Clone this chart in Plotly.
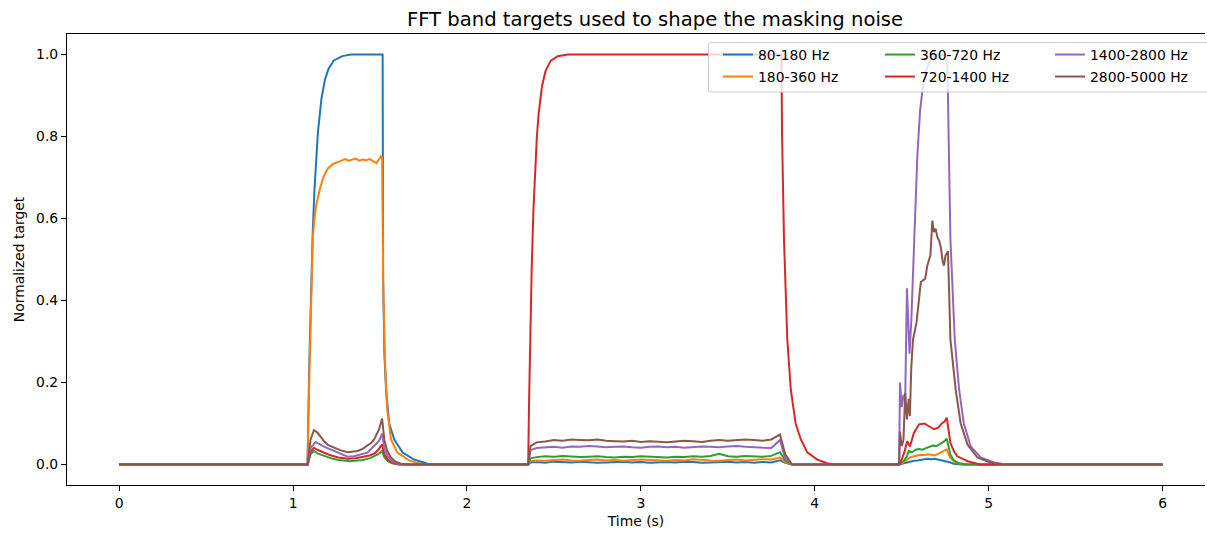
import plotly.graph_objects as go

# ---------------- data ----------------
band_names = ["80-180 Hz", "180-360 Hz", "360-720 Hz", "720-1400 Hz", "1400-2800 Hz", "2800-5000 Hz"]
band_colors = ["#1f77b4", "#ff7f0e", "#2ca02c", "#d62728", "#9467bd", "#8c564b"]

# shared time samples of the long middle burst (s)
t_mid = [2.40, 2.45, 2.50, 2.55, 2.60, 2.65, 2.70, 2.75, 2.80, 2.85, 2.90, 2.95, 3.00, 3.05, 3.10,
         3.15, 3.20, 3.25, 3.30, 3.35, 3.40, 3.45, 3.50, 3.55, 3.60, 3.65, 3.70, 3.75, 3.80]
t_mid_start = [2.352, 2.365]
t_mid_end = [3.83, 3.87]

# ---- 80-180 Hz
t_b1 = [0.0, 1.083, 1.093, 1.103, 1.113, 1.123, 1.133, 1.143, 1.163, 1.183, 1.203, 1.233, 1.283, 1.333,
        1.515, 1.518, 1.525, 1.535, 1.553, 1.582, 1.630, 1.696, 1.775, 1.850]
v_b1 = [0, 0, 0.243, 0.426, 0.565, 0.671, 0.751, 0.811, 0.892, 0.938, 0.964, 0.985, 0.996, 1.0,
        1.0, 0.45, 0.27, 0.18, 0.10, 0.061, 0.029, 0.012, 0.002, 0]
v_b_start = [0, 0.005]
v_b_mid = [0.006, 0.004, 0.007, 0.006, 0.005, 0.007, 0.006, 0.004, 0.005, 0.006, 0.007, 0.005, 0.006, 0.004, 0.005,
           0.006, 0.005, 0.007, 0.006, 0.004, 0.005, 0.006, 0.007, 0.005, 0.006, 0.004, 0.006, 0.005, 0.010]
v_b_end = [0.004, 0]
t_b3 = [4.485, 4.51, 4.53, 4.55, 4.57, 4.59, 4.61, 4.63, 4.65, 4.67, 4.69, 4.71, 4.73, 4.76, 4.78, 4.80, 4.84, 6.0]
v_b3 = [0, 0.003, 0.005, 0.007, 0.009, 0.010, 0.012, 0.013, 0.014, 0.013, 0.014, 0.012, 0.011, 0.008, 0.005, 0.002, 0, 0]

# ---- 180-360 Hz
t_o1 = [0.0, 1.083, 1.093, 1.103, 1.113, 1.123, 1.133, 1.153, 1.173, 1.20, 1.23, 1.26, 1.28, 1.30, 1.32, 1.34, 1.36,
        1.38, 1.40, 1.42, 1.44, 1.46, 1.48, 1.495, 1.505, 1.512, 1.518, 1.528, 1.54, 1.563, 1.60, 1.667, 1.74, 1.80]
v_o1 = [0, 0, 0.20, 0.40, 0.55, 0.60, 0.632, 0.67, 0.70, 0.722, 0.733, 0.738, 0.742, 0.745, 0.741, 0.744, 0.746,
        0.741, 0.744, 0.742, 0.745, 0.740, 0.735, 0.745, 0.752, 0.75, 0.45, 0.26, 0.14, 0.061, 0.029, 0.01, 0.001, 0]
v_o_start = [0, 0.008]
v_o_mid = [0.010, 0.009, 0.011, 0.012, 0.010, 0.009, 0.011, 0.012, 0.010, 0.011, 0.009, 0.010, 0.012, 0.011, 0.010,
           0.009, 0.011, 0.010, 0.013, 0.011, 0.010, 0.009, 0.011, 0.012, 0.010, 0.011, 0.013, 0.012, 0.017]
v_o_end = [0.006, 0]
t_o3 = [4.485, 4.51, 4.53, 4.55, 4.57, 4.59, 4.61, 4.63, 4.65, 4.67, 4.69, 4.71, 4.73, 4.745, 4.758, 4.78, 4.80,
        4.83, 4.87, 6.0]
v_o3 = [0, 0.005, 0.012, 0.018, 0.020, 0.022, 0.024, 0.023, 0.025, 0.024, 0.022, 0.026, 0.030, 0.033, 0.037, 0.016,
        0.008, 0.002, 0, 0]

# ---- 360-720 Hz
t_g1 = [0.0, 1.084, 1.10, 1.12, 1.14, 1.16, 1.19, 1.22, 1.26, 1.30, 1.33, 1.37, 1.40, 1.44, 1.47, 1.49, 1.512,
        1.525, 1.545, 1.57, 1.61]
v_g1 = [0, 0, 0.025, 0.033, 0.027, 0.024, 0.018, 0.015, 0.011, 0.009, 0.008, 0.010, 0.011, 0.015, 0.020, 0.025,
        0.033, 0.018, 0.008, 0.003, 0]
v_g_start = [0, 0.015]
v_g_mid = [0.018, 0.020, 0.019, 0.021, 0.020, 0.018, 0.019, 0.020, 0.018, 0.017, 0.019, 0.018, 0.020, 0.019, 0.018,
           0.017, 0.019, 0.018, 0.020, 0.019, 0.021, 0.026, 0.020, 0.019, 0.021, 0.020, 0.019, 0.021, 0.030]
v_g_end = [0.010, 0]
t_g3 = [4.485, 4.51, 4.53, 4.54, 4.56, 4.58, 4.60, 4.62, 4.64, 4.66, 4.68, 4.70, 4.72, 4.74, 4.759, 4.78, 4.80,
        4.83, 4.87, 6.0]
v_g3 = [0, 0.008, 0.020, 0.033, 0.030, 0.036, 0.038, 0.036, 0.040, 0.044, 0.046, 0.045, 0.050, 0.055, 0.063,
        0.024, 0.010, 0.003, 0, 0]

# ---- 720-1400 Hz
t_r1 = [0.0, 1.084, 1.10, 1.12, 1.14, 1.17, 1.21, 1.26, 1.314, 1.36, 1.40, 1.44, 1.47, 1.49, 1.512, 1.525, 1.545,
        1.57, 1.61]
v_r1 = [0, 0, 0.030, 0.041, 0.036, 0.030, 0.023, 0.017, 0.014, 0.015, 0.018, 0.022, 0.027, 0.036, 0.049, 0.025,
        0.012, 0.004, 0]
t_r2 = [2.352, 2.357, 2.362, 2.372, 2.382, 2.392, 2.402, 2.412, 2.432, 2.452, 2.482, 2.522, 2.58, 3.808, 3.812,
        3.823, 3.842, 3.862, 3.89, 3.92, 3.958, 4.015, 4.07, 4.12]
v_r2 = [0, 0.15, 0.276, 0.475, 0.62, 0.725, 0.80, 0.855, 0.924, 0.96, 0.985, 0.996, 1.0, 1.0, 0.8,
        0.55, 0.305, 0.183, 0.10, 0.061, 0.029, 0.012, 0.003, 0]
t_r3 = [4.485, 4.50, 4.515, 4.532, 4.547, 4.57, 4.60, 4.63, 4.655, 4.685, 4.71, 4.73, 4.745, 4.759, 4.78, 4.80,
        4.82, 4.85, 4.88, 4.95, 6.0]
v_r3 = [0, 0.012, 0.030, 0.057, 0.044, 0.077, 0.098, 0.100, 0.094, 0.086, 0.090, 0.100, 0.104, 0.114, 0.053, 0.032,
        0.020, 0.013, 0.008, 0, 0]

# ---- 1400-2800 Hz
t_p1 = [0.0, 1.084, 1.10, 1.13, 1.15, 1.18, 1.215, 1.26, 1.314, 1.35, 1.39, 1.427, 1.466, 1.495, 1.512, 1.525,
        1.545, 1.57, 1.60, 1.64]
v_p1 = [0, 0, 0.040, 0.055, 0.050, 0.043, 0.037, 0.028, 0.019, 0.020, 0.024, 0.029, 0.045, 0.058, 0.075, 0.040,
        0.020, 0.008, 0.002, 0]
v_p_start = [0, 0.035]
v_p_mid = [0.040, 0.042, 0.043, 0.041, 0.044, 0.043, 0.045, 0.044, 0.042, 0.043, 0.044, 0.042, 0.041, 0.043, 0.044,
           0.042, 0.043, 0.041, 0.042, 0.044, 0.043, 0.042, 0.044, 0.045, 0.043, 0.042, 0.041, 0.040, 0.060]
v_p_end = [0.015, 0]
t_p3 = [4.485, 4.49, 4.50, 4.51, 4.52, 4.53, 4.545, 4.555, 4.571, 4.59, 4.605, 4.62, 4.64, 4.667, 4.70, 4.762,
        4.77, 4.78, 4.805, 4.83, 4.857, 4.896, 4.954, 5.03, 5.10, 6.0]
v_p3 = [0, 0.20, 0.14, 0.17, 0.16, 0.43, 0.27, 0.35, 0.55, 0.754, 0.86, 0.917, 0.96, 0.99, 1.0, 1.0,
        0.795, 0.55, 0.305, 0.183, 0.10, 0.045, 0.017, 0.005, 0, 0]

# ---- 2800-5000 Hz
t_n1 = [0.0, 1.084, 1.10, 1.12, 1.14, 1.16, 1.178, 1.20, 1.235, 1.27, 1.314, 1.34, 1.37, 1.40, 1.427, 1.45, 1.466,
        1.485, 1.495, 1.512, 1.525, 1.54, 1.563, 1.59, 1.62, 1.66]
v_n1 = [0, 0, 0.060, 0.084, 0.078, 0.066, 0.057, 0.048, 0.041, 0.035, 0.030, 0.031, 0.033, 0.038, 0.045, 0.053,
        0.061, 0.075, 0.086, 0.112, 0.060, 0.035, 0.017, 0.007, 0.002, 0]
v_n_start = [0, 0.045]
v_n_mid = [0.054, 0.056, 0.060, 0.058, 0.061, 0.060, 0.059, 0.061, 0.058, 0.057, 0.056, 0.058, 0.055, 0.057, 0.056,
           0.054, 0.056, 0.058, 0.057, 0.055, 0.058, 0.060, 0.058, 0.059, 0.061, 0.060, 0.058, 0.061, 0.073]
v_n_end = [0.025, 0]
t_n3 = [4.485, 4.49, 4.50, 4.51, 4.52, 4.53, 4.54, 4.547, 4.555, 4.565, 4.585, 4.61, 4.635, 4.647, 4.665, 4.676,
        4.685, 4.695, 4.705, 4.715, 4.725, 4.735, 4.743, 4.752, 4.766, 4.78, 4.81, 4.839, 4.878, 4.935, 5.01, 5.08, 6.0]
v_n3 = [0, 0.080, 0.045, 0.060, 0.175, 0.110, 0.160, 0.118, 0.237, 0.305, 0.346, 0.445, 0.453, 0.485, 0.510, 0.595,
        0.567, 0.575, 0.555, 0.546, 0.530, 0.497, 0.485, 0.510, 0.520, 0.305, 0.183, 0.100, 0.049, 0.017, 0.005, 0, 0]

x_ticks = [0, 1, 2, 3, 4, 5, 6]
y_ticks = [0.0, 0.2, 0.4, 0.6, 0.8, 1.0]

t_mid_full = t_mid_start + t_mid + t_mid_end
series_t = [
    t_b1 + t_mid_full + t_b3,
    t_o1 + t_mid_full + t_o3,
    t_g1 + t_mid_full + t_g3,
    t_r1 + t_r2 + t_r3,
    t_p1 + t_mid_full + t_p3,
    t_n1 + t_mid_full + t_n3,
]
series_v = [
    v_b1 + v_b_start + v_b_mid + v_b_end + v_b3,
    v_o1 + v_o_start + v_o_mid + v_o_end + v_o3,
    v_g1 + v_g_start + v_g_mid + v_g_end + v_g3,
    v_r1 + v_r2 + v_r3,
    v_p1 + v_p_start + v_p_mid + v_p_end + v_p3,
    v_n1 + v_n_start + v_n_mid + v_n_end + v_n3,
]
for name, tt, vv in zip(band_names, series_t, series_v):
    assert len(tt) == len(vv), (name, len(tt), len(vv))

# ---------------- layout geometry ----------------
W, H = 1207, 533
ML, MR, MT, MB = 67, 2, 34, 48
PW, PH = W - ML - MR, H - MT - MB
FONT = "DejaVu Sans"


def px_x(px):
    return (px - ML) / PW


def px_y(py):
    return (H - MB - py) / PH


fig = go.Figure()
legend_ids = ["legend", "legend2", "legend3", "legend4", "legend5", "legend6"]
for i, (name, tt, vv) in enumerate(zip(band_names, series_t, series_v)):
    fig.add_trace(go.Scatter(
        x=tt, y=vv, mode="lines", name=name,
        line=dict(color=band_colors[i], width=2),
        legend=legend_ids[i], hoverinfo="skip",
    ))

# legend placement: 3 columns x 2 rows (column-major like matplotlib ncol=3)
col_text_px = [758, 920, 1090]
row_px = [55, 77]
legend_layouts = {}
for i, lid in enumerate(legend_ids):
    col, row = i // 2, i % 2
    legend_layouts[lid] = dict(
        x=px_x(col_text_px[col] - 40), y=px_y(row_px[row]),
        xanchor="left", yanchor="middle",
        bgcolor="rgba(0,0,0,0)", borderwidth=0,
        font=dict(family=FONT, size=13.9, color="black"),
        itemclick=False, itemdoubleclick=False,
    )

fig.update_layout(
    width=W, height=H,
    margin=dict(l=ML, r=MR, t=MT, b=MB, pad=0, autoexpand=False),
    paper_bgcolor="white", plot_bgcolor="white",
    font=dict(family=FONT, size=13.9, color="black"),
    title=dict(text="FFT band targets used to shape the masking noise",
               x=655 / W, xref="container", xanchor="center",
               y=1 - 19 / H, yref="container", yanchor="middle",
               font=dict(family=FONT, size=19.6, color="black")),
    showlegend=True,
    **legend_layouts,
)

# legend frame with slightly rounded corners
bx0, bx1, by0, by1, rad = 708.5, 1214.0, 42.5, 92.0, 3.0
frame_path = (
    f"M {px_x(bx0 + rad)},{px_y(by0)} L {px_x(bx1 - rad)},{px_y(by0)} "
    f"Q {px_x(bx1)},{px_y(by0)} {px_x(bx1)},{px_y(by0 + rad)} "
    f"L {px_x(bx1)},{px_y(by1 - rad)} Q {px_x(bx1)},{px_y(by1)} {px_x(bx1 - rad)},{px_y(by1)} "
    f"L {px_x(bx0 + rad)},{px_y(by1)} Q {px_x(bx0)},{px_y(by1)} {px_x(bx0)},{px_y(by1 - rad)} "
    f"L {px_x(bx0)},{px_y(by0 + rad)} Q {px_x(bx0)},{px_y(by0)} {px_x(bx0 + rad)},{px_y(by0)} Z"
)
fig.add_shape(type="path", xref="paper", yref="paper", path=frame_path,
              line=dict(color="#cccccc", width=1), fillcolor="rgba(255,255,255,0.8)",
              layer="above")

fig.update_xaxes(
    automargin=False,
    range=[-0.3, 6.244], tickvals=x_ticks, ticktext=[str(v) for v in x_ticks],
    showgrid=False, zeroline=False, showline=True, linecolor="black", linewidth=1.1,
    mirror=True, ticks="outside", ticklen=5, tickwidth=1.1, tickcolor="black",
    tickfont=dict(family=FONT, size=13.9, color="black"),
    title=dict(text="Time (s)", font=dict(family=FONT, size=13.9, color="black"), standoff=6),
)
fig.update_yaxes(
    automargin=False,
    range=[-0.05, 1.05], tickvals=y_ticks, ticktext=[f"{v:.1f}" for v in y_ticks],
    showgrid=False, zeroline=False, showline=True, linecolor="black", linewidth=1.1,
    mirror=False, ticks="outside", ticklen=5, tickwidth=1.1, tickcolor="black",
    tickfont=dict(family=FONT, size=13.9, color="black"),
    title=dict(text="Normalized target", font=dict(family=FONT, size=13.9, color="black"), standoff=8),
)

fig.write_html(
    "out.html",
    config={"displayModeBar": False},
    post_script="document.body.style.margin='0';document.body.style.overflow='hidden';",
)
